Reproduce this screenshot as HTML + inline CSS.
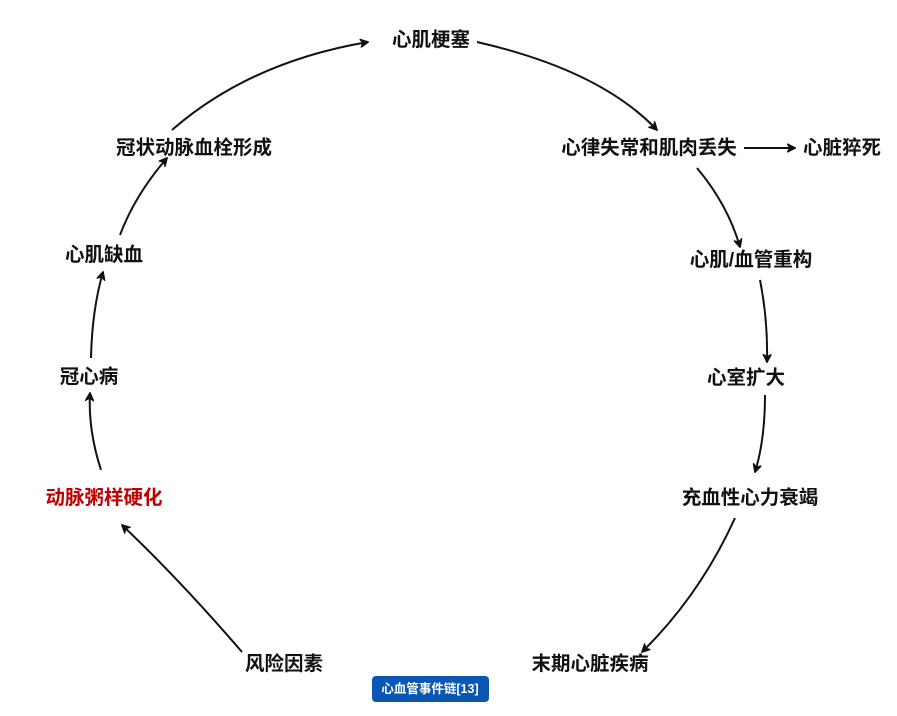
<!DOCTYPE html>
<html><head><meta charset="utf-8"><style>
html,body{margin:0;padding:0;background:#fff;width:897px;height:716px;overflow:hidden}
svg text{font-family:"Liberation Sans","Noto Sans CJK SC",sans-serif;font-size:19.5px;font-weight:bold;fill:#111;text-anchor:middle;dominant-baseline:central}
</style></head><body>
<svg width="897" height="716" viewBox="0 0 897 716" xmlns="http://www.w3.org/2000/svg">
<defs><marker id="a" viewBox="0 0 10 10" refX="9" refY="5" markerWidth="9" markerHeight="9" orient="auto-start-reverse" markerUnits="userSpaceOnUse"><path d="M0,0 L10,5 L0,10 L3,5 Z" fill="#111" stroke="#111" stroke-width="1"/></marker></defs>
<g fill="none" stroke="#111" stroke-width="2" marker-end="url(#a)">
<path d="M172,130 Q250,62 368,42"/>
<path d="M477,42 Q600,70 657,130"/>
<path d="M744,148 L795,148"/>
<path d="M697,168 Q728,205 740,247"/>
<path d="M760,280 Q768,320 767,362"/>
<path d="M765,395 Q765,440 755,472"/>
<path d="M735,518 Q700,595 642,652"/>
<path d="M242,652 Q180,580 122,525"/>
<path d="M101,470 Q88,430 90,393"/>
<path d="M91,358 Q92,310 103,272"/>
<path d="M120,235 Q135,195 167,158"/>
</g>
<text x="431" y="40">心肌梗塞</text>
<text x="649" y="148">心律失常和肌肉丢失</text>
<text x="842" y="148">心脏猝死</text>
<text x="751" y="260">心肌/血管重构</text>
<text x="746" y="378">心室扩大</text>
<text x="750" y="498">充血性心力衰竭</text>
<text x="590" y="664">末期心脏疾病</text>
<text x="284" y="664">风险因素</text>
<text x="104" y="498" style="fill:#c00000">动脉粥样硬化</text>
<text x="89" y="377">冠心病</text>
<text x="104" y="255">心肌缺血</text>
<text x="194" y="148">冠状动脉血栓形成</text>
<rect x="372" y="676" width="117" height="26" rx="4" fill="#0b56b3"/>
<text x="430" y="689" style="font-size:12.5px;fill:#fff">心血管事件链[13]</text>
</svg>
</body></html>
